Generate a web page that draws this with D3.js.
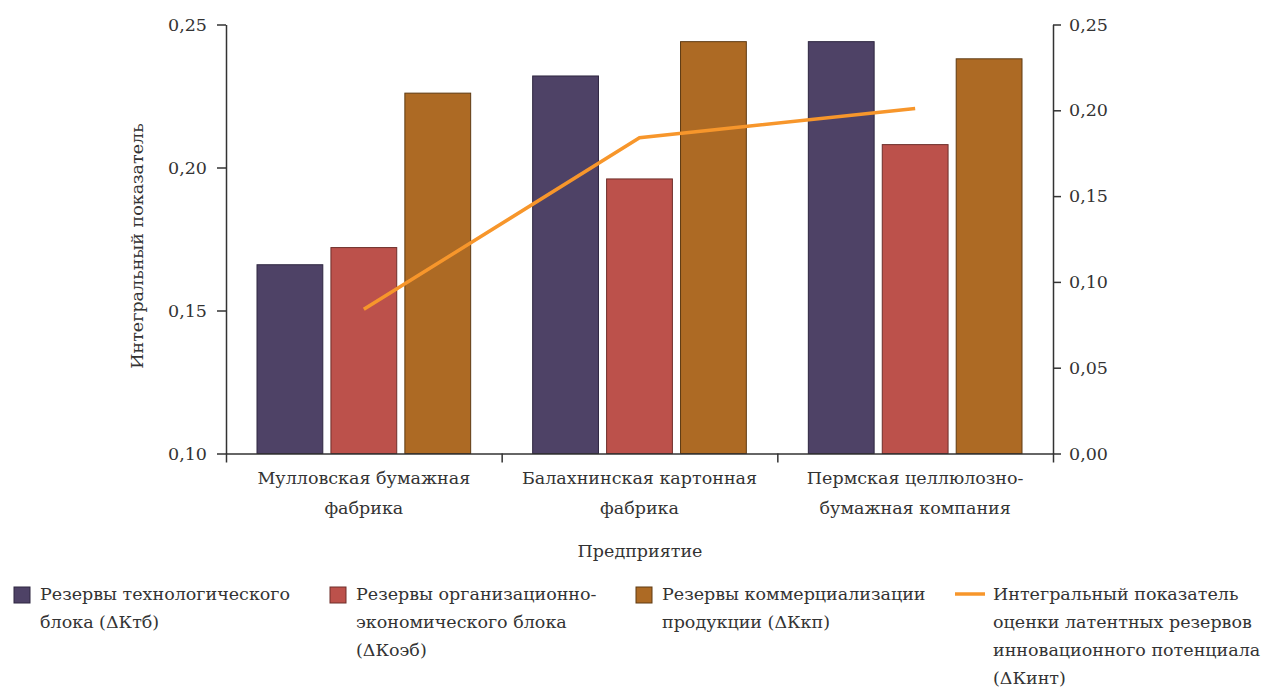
<!DOCTYPE html>
<html><head><meta charset="utf-8">
<script src="https://cdn.jsdelivr.net/npm/d3@7"></script>
<style>body{margin:0;background:#fff}svg{display:block}</style>
</head><body><svg id="c" width="1278" height="688"></svg>
<script>
const categories = [["Мулловская бумажная","фабрика"],["Балахнинская картонная","фабрика"],["Пермская целлюлозно-","бумажная компания"]];
const seriesNames = ["Резервы технологического блока (ΔКтб)","Резервы организационно-экономического блока (ΔКоэб)","Резервы коммерциализации продукции (ΔКкп)"];
const techValues = [0.166, 0.232, 0.244];
const orgValues = [0.172, 0.196, 0.208];
const commValues = [0.226, 0.244, 0.238];
const integralValues = [0.084, 0.184, 0.201];
const leftTicks = [0.10, 0.15, 0.20, 0.25];
const rightTicks = [0.00, 0.05, 0.10, 0.15, 0.20, 0.25];
const colors = ["#4e4266", "#bc514b", "#ad6a24"];
const strokeColors = ["#2e2640", "#6e2e2a", "#5e3a12"];
const lineColor = "#f7962b";
const FONT = "DejaVu Serif";
const FS = "17.5px";

const svg = d3.select("#c");
const L = 226, R = 1053, T = 24.5, B = 453.5;
const fmt = d => d3.format(".2f")(d).replace(".", ",");
const x0 = d3.scaleBand().domain(d3.range(3)).range([L, R]).padding(0);
const x1 = d3.scaleBand().domain(d3.range(3)).range([31, x0.bandwidth() - 31]).paddingInner(0.11);
const yL = d3.scaleLinear().domain([0.10, 0.25]).range([B, T]);
const yR = d3.scaleLinear().domain([0.00, 0.25]).range([B, T]);
const series = [techValues, orgValues, commValues];

series.forEach((vals, si) => {
  svg.append("g").selectAll("rect").data(vals).join("rect")
    .attr("x", (d, i) => x0(i) + x1(si))
    .attr("width", x1.bandwidth())
    .attr("y", d => yL(d))
    .attr("height", d => B - yL(d))
    .attr("fill", colors[si])
    .attr("stroke", strokeColors[si]).attr("stroke-width", 1);
});

const styleAxis = g => { g.attr("font-family", null).attr("font-size", null);
  g.selectAll("path,line").attr("stroke", "#333").attr("stroke-width", 1.5);
  g.selectAll("text").style("font-size", FS).attr("fill", "#333"); };
svg.append("g").attr("transform", `translate(${L},0)`)
  .call(d3.axisLeft(yL).tickValues(leftTicks).tickFormat(fmt).tickSize(9).tickSizeOuter(0).tickPadding(10))
  .call(styleAxis);
svg.append("g").attr("transform", `translate(${R},0)`)
  .call(d3.axisRight(yR).tickValues(rightTicks).tickFormat(fmt).tickSize(8).tickSizeOuter(0).tickPadding(8))
  .call(styleAxis);
const xb = d3.scaleLinear().domain([0, 3]).range([L, R]);
svg.append("g").attr("transform", `translate(0,${B})`)
  .call(d3.axisBottom(xb).tickValues([0, 1, 2, 3]).tickFormat("").tickSize(9).tickSizeOuter(0))
  .call(styleAxis);

categories.forEach((lines, i) => {
  const t = svg.append("text").attr("text-anchor", "middle").style("font-size", FS)
    .attr("x", x0(i) + x0.bandwidth() / 2).attr("y", 484);
  lines.forEach((ln, k) => t.append("tspan").attr("x", x0(i) + x0.bandwidth() / 2).attr("dy", k ? 30 : 0).text(ln));
});

const line = d3.line().x((d, i) => x0(i) + x0.bandwidth() / 2).y(d => yR(d));
svg.append("path").datum(integralValues).attr("d", line).attr("fill", "none")
  .attr("stroke", lineColor).attr("stroke-width", 3.5);

svg.append("text").attr("transform", "translate(143,246) rotate(-90)").attr("text-anchor", "middle")
  .style("font-size", FS).text("Интегральный показатель");
svg.append("text").attr("x", 640).attr("y", 557).attr("text-anchor", "middle")
  .style("font-size", FS).text("Предприятие");

const legend = [
  {x: 14, type: "rect", c: 0, lines: ["Резервы технологического", "блока (ΔКтб)"]},
  {x: 330, type: "rect", c: 1, lines: ["Резервы организационно-", "экономического блока", "(ΔКоэб)"]},
  {x: 636, type: "rect", c: 2, lines: ["Резервы коммерциализации", "продукции (ΔКкп)"]},
  {x: 955, type: "line", lines: ["Интегральный показатель", "оценки латентных резервов", "инновационного потенциала", "(ΔКинт)"]}
];
legend.forEach(it => {
  const g = svg.append("g");
  let tx;
  if (it.type === "rect") {
    g.append("rect").attr("x", it.x).attr("y", 587).attr("width", 16).attr("height", 16)
      .attr("fill", colors[it.c]).attr("stroke", strokeColors[it.c]);
    tx = it.x + 26;
  } else {
    g.append("line").attr("x1", it.x).attr("x2", it.x + 30).attr("y1", 594).attr("y2", 594)
      .attr("stroke", lineColor).attr("stroke-width", 3.5);
    tx = it.x + 38;
  }
  const t = g.append("text").attr("y", 600).style("font-size", FS);
  it.lines.forEach((ln, k) => t.append("tspan").attr("x", tx).attr("dy", k ? 28 : 0).text(ln));
});
svg.selectAll("text").style("font-family", FONT).style("fill", "#333");
</script></body></html>
